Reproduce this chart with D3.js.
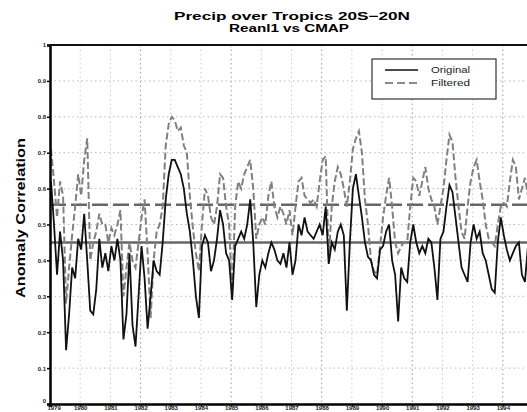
<!DOCTYPE html>
<html><head><meta charset="utf-8">
<script src="https://cdn.jsdelivr.net/npm/d3@7"></script>
<style>html,body{margin:0;padding:0;background:#fff;overflow:hidden}</style>
</head><body>
<script>
const startYear = 1979;
const samplesPerYear = 10;
const yearLabels = ["1979","1980","1981","1982","1983","1984","1985","1986","1987","1988","1989","1990","1991","1992","1993","1994"];
const yTicks = [0,0.1,0.2,0.3,0.4,0.5,0.6,0.7,0.8,0.9,1];
const original = [0.62,0.50,0.36,0.48,0.40,0.15,0.25,0.38,0.35,0.46,0.43,0.53,0.40,0.26,0.25,0.32,0.46,0.38,0.42,0.37,
0.44,0.40,0.46,0.40,0.18,0.25,0.42,0.22,0.16,0.30,0.44,0.35,0.21,0.30,0.40,0.37,0.36,0.45,0.57,0.64,
0.68,0.68,0.66,0.64,0.60,0.53,0.48,0.40,0.30,0.24,0.44,0.47,0.45,0.37,0.40,0.46,0.54,0.50,0.42,0.40,
0.29,0.44,0.46,0.48,0.46,0.50,0.57,0.45,0.27,0.36,0.40,0.38,0.42,0.45,0.43,0.40,0.39,0.42,0.38,0.45,
0.36,0.40,0.50,0.47,0.52,0.48,0.47,0.46,0.48,0.50,0.47,0.55,0.39,0.45,0.43,0.48,0.50,0.47,0.26,0.45,
0.60,0.64,0.58,0.52,0.45,0.41,0.40,0.36,0.35,0.43,0.44,0.48,0.50,0.40,0.36,0.23,0.38,0.35,0.34,0.45,
0.50,0.45,0.42,0.44,0.42,0.46,0.45,0.38,0.29,0.46,0.48,0.55,0.61,0.59,0.52,0.45,0.38,0.36,0.34,0.45,
0.50,0.46,0.48,0.42,0.40,0.36,0.32,0.31,0.45,0.52,0.47,0.43,0.40,0.42,0.44,0.45,0.36,0.34,0.44];
const filtered = [0.71,0.62,0.52,0.62,0.58,0.28,0.38,0.47,0.55,0.64,0.58,0.68,0.74,0.40,0.45,0.48,0.53,0.50,0.50,0.45,
0.49,0.47,0.50,0.54,0.30,0.38,0.45,0.40,0.38,0.45,0.52,0.57,0.42,0.24,0.40,0.48,0.50,0.55,0.72,0.78,
0.80,0.79,0.76,0.77,0.72,0.70,0.58,0.49,0.42,0.37,0.50,0.60,0.58,0.52,0.50,0.55,0.64,0.63,0.55,0.50,
0.30,0.55,0.62,0.60,0.64,0.66,0.68,0.60,0.46,0.50,0.52,0.50,0.58,0.62,0.55,0.52,0.55,0.53,0.50,0.54,
0.47,0.55,0.62,0.63,0.58,0.57,0.56,0.57,0.55,0.62,0.68,0.69,0.40,0.55,0.62,0.66,0.64,0.60,0.55,0.62,
0.71,0.74,0.76,0.70,0.57,0.50,0.40,0.37,0.36,0.44,0.52,0.58,0.63,0.55,0.45,0.42,0.44,0.45,0.45,0.55,
0.63,0.62,0.58,0.62,0.66,0.60,0.57,0.55,0.50,0.55,0.60,0.68,0.75,0.73,0.63,0.55,0.48,0.46,0.55,0.62,
0.66,0.68,0.62,0.57,0.50,0.46,0.45,0.44,0.50,0.55,0.56,0.55,0.62,0.68,0.66,0.57,0.60,0.63,0.58];
const meanOriginal = 0.45;
const meanFiltered = 0.555;
const seriesNames = ["Original","Filtered"];

(function () {
const W = 527, H = 412;
const mLeft = 50, mRight = 533, mTop = 45, mBottom = 404;
const svg = d3.select("body").append("svg").attr("width", W).attr("height", H)
  .style("font-family", "'Liberation Sans', Arial, sans-serif");

const x = d3.scaleLinear().domain([startYear, startYear + 16]).range([mLeft, mRight]);
const y = d3.scaleLinear().domain([0, 1]).range([mBottom, mTop]);

// grid
const yearVals = yearLabels.map(Number);
svg.append("g").selectAll("line").data(yearVals.slice(1)).join("line")
  .attr("x1", d => x(d)).attr("x2", d => x(d)).attr("y1", mTop).attr("y2", mBottom)
  .attr("stroke", (d,i) => (i % 3 === 2) ? "#999" : "#ccc").attr("stroke-width", 1)
  .attr("stroke-dasharray", "1.5,3");
svg.append("g").selectAll("line").data(yTicks.slice(1, -1)).join("line")
  .attr("x1", mLeft).attr("x2", W).attr("y1", d => y(d)).attr("y2", d => y(d))
  .attr("stroke", "#bbb").attr("stroke-width", 1).attr("stroke-dasharray", "1.5,3");

// mean lines
svg.append("line").attr("x1", mLeft).attr("x2", W).attr("y1", y(meanOriginal)).attr("y2", y(meanOriginal))
  .attr("stroke", "#666").attr("stroke-width", 2.5);
svg.append("line").attr("x1", mLeft).attr("x2", W).attr("y1", y(meanFiltered)).attr("y2", y(meanFiltered))
  .attr("stroke", "#666").attr("stroke-width", 2.5).attr("stroke-dasharray", "16,5");

const t = i => startYear + i / samplesPerYear;
const line = d3.line().x((d, i) => x(t(i)) + 1).y(d => y(d));
svg.append("path").datum(filtered).attr("d", line).attr("fill", "none")
  .attr("stroke", "#808080").attr("stroke-width", 2).attr("stroke-dasharray", "7,3");
svg.append("path").datum(original).attr("d", line).attr("fill", "none")
  .attr("stroke", "#111").attr("stroke-width", 1.8);

// axes
const yAxis = d3.axisLeft(y).tickValues(yTicks).tickSize(3).tickFormat(d => d === 0 ? "0" : d === 1 ? "1" : d3.format(".1f")(d));
const gy = svg.append("g").attr("transform", `translate(${mLeft},0)`).call(yAxis);
gy.select(".domain").attr("stroke", "#000").attr("stroke-width", 2.5);
gy.selectAll(".tick line").attr("stroke", "#000").attr("stroke-width", 1.5);
gy.selectAll("text").attr("font-size", 6).attr("font-weight", "bold").attr("fill", "#222").attr("x", -4);
gy.selectAll("text").filter(d => d === 0).attr("dy", "-0.3em");

const xAxis = d3.axisBottom(x).tickValues(yearVals).tickSize(3).tickFormat((d, i) => yearLabels[i]);
const gx = svg.append("g").attr("transform", `translate(0,${mBottom})`).call(xAxis);
gx.select(".domain").attr("stroke", "#000").attr("stroke-width", 2.5);
gx.selectAll(".tick line").attr("stroke", "#000");
gx.selectAll("text").attr("font-size", 6).attr("font-weight", "bold").attr("fill", "#222")
  .attr("y", 1.5).attr("dy", "0.71em");
gx.selectAll("text").filter(d => d === startYear).attr("dx", "0.6em");

svg.append("line").attr("x1", mLeft).attr("x2", W).attr("y1", mTop).attr("y2", mTop)
  .attr("stroke", "#111").attr("stroke-width", 2);

// title
svg.append("text").attr("x", 292).attr("y", 19.5).attr("text-anchor", "middle")
  .attr("font-size", 11).attr("font-weight", "bold").attr("textLength", 236).attr("lengthAdjust", "spacingAndGlyphs")
  .text("Precip over Tropics 20S\u221220N");
svg.append("text").attr("x", 289).attr("y", 32).attr("text-anchor", "middle")
  .attr("font-size", 11).attr("font-weight", "bold").attr("textLength", 120).attr("lengthAdjust", "spacingAndGlyphs")
  .text("Reanl1 vs CMAP");

svg.append("text").attr("transform", "translate(25,218) rotate(-90)").attr("text-anchor", "middle")
  .attr("font-size", 12).attr("font-weight", "bold").attr("textLength", 160).attr("lengthAdjust", "spacingAndGlyphs")
  .text("Anomaly Correlation");

// legend
const lg = svg.append("g");
lg.append("rect").attr("x", 372).attr("y", 59).attr("width", 124).attr("height", 40)
  .attr("fill", "#fff").attr("stroke", "#333").attr("stroke-width", 1.2);
const styles = [{c:"#111", d:null}, {c:"#666", d:"8,4"}];
seriesNames.forEach((n, i) => {
  const yy = 70 + i * 13;
  lg.append("line").attr("x1", 385).attr("x2", 418).attr("y1", yy).attr("y2", yy)
    .attr("stroke", styles[i].c).attr("stroke-width", 1.6).attr("stroke-dasharray", styles[i].d);
  lg.append("text").attr("x", 431).attr("y", yy + 3).attr("font-size", 9).attr("fill", "#222")
    .attr("textLength", 39).attr("lengthAdjust", "spacingAndGlyphs").text(n);
});
})();
</script>
</body></html>
